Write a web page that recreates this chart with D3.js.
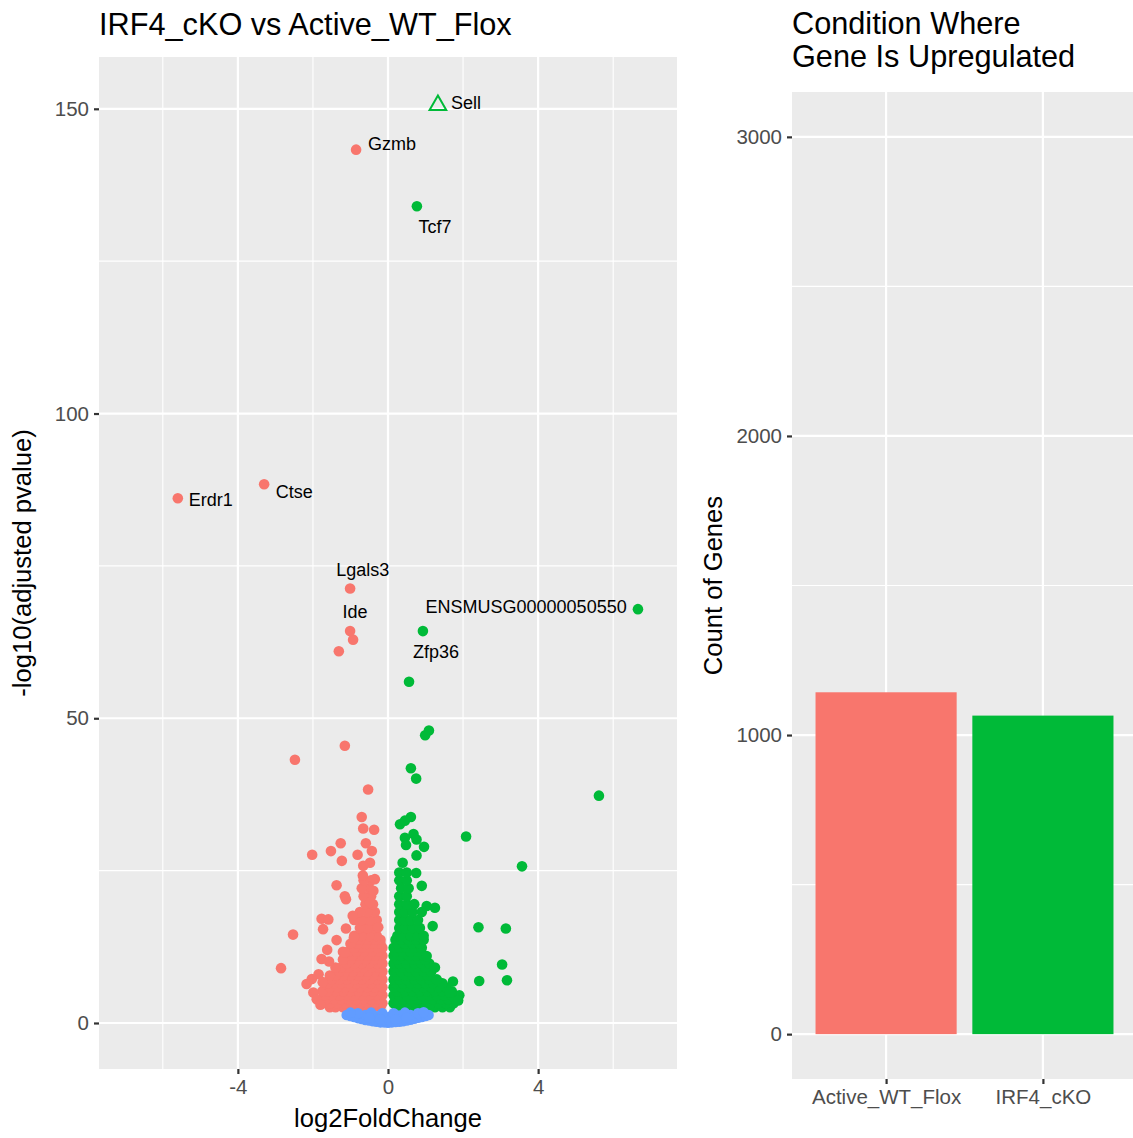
<!DOCTYPE html>
<html>
<head>
<meta charset="utf-8">
<script src="https://cdnjs.cloudflare.com/ajax/libs/d3/7.8.5/d3.min.js"></script>
<style>
  body { margin: 0; background: #fff; }
  svg text { font-family: "Liberation Sans", Arial, Helvetica, sans-serif; }
</style>
</head>
<body>
<div id="chart"></div>
<script>
width = 1133
height = 1138

// ---- volcano data: [log2FoldChange, -log10(padj)] ----
let downGenes = [
    // dense blob
    [-0.2,2.6],[-0.4,2.6],[-0.6,2.6],[-0.8,2.6],[-1.0,2.6],[-1.2,2.6],[-1.4,2.6],[-1.55,2.6],
    [-0.15,3.25],[-0.35,3.25],[-0.55,3.25],[-0.75,3.25],[-0.95,3.25],[-1.15,3.25],[-1.35,3.25],[-1.55,3.25],[-1.75,3.25],
    [-0.25,3.9],[-0.45,3.9],[-0.65,3.9],[-0.85,3.9],[-1.05,3.9],[-1.25,3.9],[-1.45,3.9],[-1.65,3.9],
    [-0.15,4.55],[-0.3,4.55],[-0.5,4.55],[-0.7,4.55],[-0.9,4.55],[-1.1,4.55],[-1.3,4.55],[-1.5,4.55],[-1.7,4.55],
    [-0.2,5.2],[-0.4,5.2],[-0.6,5.2],[-0.8,5.2],[-1.0,5.2],[-1.2,5.2],[-1.4,5.2],[-1.6,5.2],[-1.75,5.2],
    [-0.15,5.85],[-0.35,5.85],[-0.55,5.85],[-0.75,5.85],[-0.95,5.85],[-1.15,5.85],[-1.35,5.85],[-1.55,5.85],
    [-0.25,6.5],[-0.45,6.5],[-0.65,6.5],[-0.85,6.5],[-1.05,6.5],[-1.25,6.5],[-1.45,6.5],[-1.6,6.5],
    [-0.15,7.15],[-0.3,7.15],[-0.5,7.15],[-0.7,7.15],[-0.9,7.15],[-1.1,7.15],[-1.3,7.15],[-1.5,7.15],
    [-0.2,7.8],[-0.4,7.8],[-0.6,7.8],[-0.8,7.8],[-1.0,7.8],[-1.2,7.8],[-1.4,7.8],[-1.55,7.8],
    [-0.15,8.45],[-0.35,8.45],[-0.55,8.45],[-0.75,8.45],[-0.95,8.45],[-1.15,8.45],[-1.3,8.45],
    [-0.25,9.1],[-0.45,9.1],[-0.65,9.1],[-0.85,9.1],[-1.05,9.1],[-1.25,9.1],[-1.4,9.1],
    [-0.15,9.75],[-0.3,9.75],[-0.5,9.75],[-0.7,9.75],[-0.9,9.75],[-1.1,9.75],
    [-0.2,10.4],[-0.4,10.4],[-0.6,10.4],[-0.8,10.4],[-1.0,10.4],[-1.2,10.4],
    [-0.15,11.05],[-0.35,11.05],[-0.55,11.05],[-0.75,11.05],[-0.95,11.05],
    [-0.25,11.7],[-0.45,11.7],[-0.65,11.7],[-0.85,11.7],[-1.05,11.7],[-1.2,11.7],
    [-0.15,12.35],[-0.3,12.35],[-0.5,12.35],[-0.7,12.35],[-0.9,12.35],
    [-0.2,13.0],[-0.4,13.0],[-0.6,13.0],[-0.8,13.0],[-1.0,13.0],
    [-0.2,13.65],[-0.35,13.65],[-0.55,13.65],[-0.75,13.65],
    [-0.3,14.3],[-0.5,14.3],[-0.7,14.3],[-0.9,14.3],
    [-0.35,15.6],[-0.55,15.6],[-0.75,15.6],
    [-0.3,16.9],[-0.5,16.9],[-0.7,16.9],[-0.9,16.9],
    [-0.35,18.2],[-0.55,18.2],[-0.75,18.2],
    [-0.4,19.5],[-0.6,19.5],
    [-0.45,20.8],[-0.65,20.8],
    [-0.5,22.1],[-0.7,22.1],
    [-0.45,23.4],[-0.65,23.4],
    // scattered
    [-0.70,33.8],[-0.66,31.9],[-0.37,31.7],[-1.26,29.5],[-1.52,28.2],[-2.02,27.6],
    [-1.23,26.6],[-0.81,27.6],[-0.59,29.5],[-0.43,28.2],[-0.48,26.3],[-0.66,25.8],
    [-0.67,24.2],[-0.35,23.6],[-1.37,22.6],[-1.15,20.8],[-1.12,20.3],[-0.39,21.7],
    [-0.48,19.8],[-0.94,17.6],[-1.77,17.1],[-1.59,17.0],[-1.73,15.4],[-1.12,15.5],
    [-0.26,15.7],[-2.53,14.5],[-1.37,13.6],[-0.91,14.0],[-1.62,12.0],[-1.15,11.6],
    [-1.77,10.5],[-1.57,10.1],[-2.85,9.0],[-2.03,7.2],[-2.17,6.4],[-1.74,6.7],
    [-1.99,5.0],[-1.90,3.9],[-1.85,8.0],[-1.8,3.0],
    [-1.15,45.5],[-2.48,43.2],[-0.53,38.3],
    [-0.93,62.9],[-1.31,61.0]
]

let upGenes = [
    // dense blob
    [0.25,2.6],[0.45,2.6],[0.65,2.6],[0.85,2.6],[1.05,2.6],[1.25,2.6],[1.45,2.6],[1.65,2.6],
    [0.15,3.25],[0.35,3.25],[0.55,3.25],[0.75,3.25],[0.95,3.25],[1.15,3.25],[1.35,3.25],[1.55,3.25],[1.75,3.25],
    [0.2,3.9],[0.4,3.9],[0.6,3.9],[0.8,3.9],[1.0,3.9],[1.2,3.9],[1.4,3.9],[1.6,3.9],[1.8,3.9],
    [0.15,4.55],[0.3,4.55],[0.5,4.55],[0.7,4.55],[0.9,4.55],[1.1,4.55],[1.3,4.55],[1.5,4.55],[1.7,4.55],[1.9,4.55],
    [0.25,5.2],[0.45,5.2],[0.65,5.2],[0.85,5.2],[1.05,5.2],[1.25,5.2],[1.45,5.2],[1.7,5.2],
    [0.15,5.85],[0.35,5.85],[0.55,5.85],[0.75,5.85],[0.95,5.85],[1.15,5.85],[1.35,5.85],[1.55,5.85],
    [0.2,6.5],[0.4,6.5],[0.6,6.5],[0.8,6.5],[1.0,6.5],[1.2,6.5],[1.45,6.5],
    [0.15,7.15],[0.3,7.15],[0.5,7.15],[0.7,7.15],[0.9,7.15],[1.1,7.15],[1.3,7.15],
    [0.25,7.8],[0.45,7.8],[0.65,7.8],[0.85,7.8],[1.05,7.8],
    [0.15,8.45],[0.35,8.45],[0.55,8.45],[0.75,8.45],[0.95,8.45],[1.15,8.45],
    [0.2,9.1],[0.4,9.1],[0.6,9.1],[0.8,9.1],[1.0,9.1],
    [0.15,9.75],[0.3,9.75],[0.5,9.75],[0.7,9.75],[0.9,9.75],[1.1,9.75],
    [0.25,10.4],[0.45,10.4],[0.65,10.4],[0.85,10.4],[1.0,10.4],
    [0.15,11.05],[0.35,11.05],[0.55,11.05],[0.75,11.05],[0.95,11.05],
    [0.2,11.7],[0.4,11.7],[0.6,11.7],[0.8,11.7],
    [0.15,12.35],[0.3,12.35],[0.5,12.35],[0.7,12.35],[0.9,12.35],
    [0.25,13.0],[0.45,13.0],[0.65,13.0],[0.85,13.0],
    [0.2,13.65],[0.35,13.65],[0.55,13.65],[0.75,13.65],[0.95,13.65],
    [0.25,14.3],[0.4,14.3],[0.6,14.3],[0.8,14.3],[0.95,14.3],
    [0.3,15.6],[0.45,15.6],[0.65,15.6],[0.85,15.6],
    [0.3,16.9],[0.45,16.9],[0.6,16.9],[0.8,16.9],
    [0.3,18.2],[0.45,18.2],[0.65,18.2],[0.9,18.2],
    [0.3,19.5],[0.5,19.5],[0.7,19.5],
    [0.3,20.8],[0.5,20.8],
    [0.35,22.1],[0.55,22.1],[0.9,22.5],
    [0.3,23.4],[0.5,23.4],
    // scattered
    [0.61,33.8],[0.45,33.2],[0.32,32.6],[0.68,31.0],[0.45,30.4],[0.76,30.1],
    [0.48,29.2],[0.96,28.9],[0.76,27.5],[0.39,26.3],[0.30,24.7],[0.50,24.7],
    [0.75,24.6],[1.03,19.2],[1.25,18.9],[1.19,15.9],[1.03,11.0],[1.25,9.1],
    [1.73,6.8],[1.65,5.0],[1.87,3.7],[2.43,6.9],[2.41,15.7],
    [1.09,48.0],[0.99,47.2],[0.61,41.8],[0.75,40.1],[5.62,37.3],[2.08,30.6],
    [3.57,25.7],[3.14,15.5],[3.04,9.6],[3.17,7.0],
    [0.56,56.0]
]

let nsGenes = [
    [0,0.05],[-0.1,0.1],[0.1,0.1],[-0.2,0.1],[0.2,0.15],[-0.3,0.2],[0.3,0.2],
    [-0.4,0.3],[0.4,0.3],[-0.5,0.4],[0.5,0.4],[-0.6,0.5],[0.6,0.55],[-0.7,0.65],
    [0.7,0.7],[-0.8,0.8],[0.8,0.85],[-0.9,1.0],[0.9,1.0],[-1.0,1.15],[1.0,1.15],
    [-1.1,1.3],[1.08,1.3],[-0.05,0.9],[0.05,1.0],[-0.3,1.1],[0.3,1.2],[-0.6,1.3],
    [0.6,1.3],[-0.15,1.6],[0.15,1.6],[-0.45,1.7],[0.45,1.7],[-0.8,1.6],[0.8,1.6],
    [-1.0,1.7],[0.95,1.75],[-0.2,0.6],[0.2,0.6],[-0.5,0.9],[0.5,0.9]
]

// labelled genes
let labelGenes = ["Sell", "Gzmb", "Tcf7", "Erdr1", "Ctse", "Lgals3", "Ide", "ENSMUSG00000050550", "Zfp36"]
let labelFC = [1.33, -0.85, 0.77, -5.60, -3.30, -1.01, -1.01, 6.66, 0.93]
let labelP = [150.6, 143.3, 134.0, 86.1, 88.4, 71.3, 64.3, 67.9, 64.3]
let labelGroup = ["up", "down", "up", "down", "down", "down", "down", "up", "up"]
// where the repelled text landed, in data units
let labelTextFC = [2.08, 0.11, 1.25, -4.72, -2.50, -0.67, -0.88, 3.68, 1.28]
let labelTextP = [151.0, 144.2, 130.7, 85.9, 87.2, 74.3, 67.5, 68.3, 61.0]

let xTicks = [-4, 0, 4]
let xMinor = [-6, -2, 2, 6]
let yTicks = [0, 50, 100, 150]
let yMinor = [25, 75, 125]

// ---- bar data ----
let conditions = ["Active_WT_Flox", "IRF4_cKO"]
let geneCounts = [1143, 1065]
let countTicks = [0, 1000, 2000, 3000]
let countMinor = [500, 1500, 2500]

let colors = { down: "#F8766D", up: "#00BA38", ns: "#619CFF" }
let dotR = 5.3

let svg = d3.select("#chart")
    .append("svg")
    .attr("width", width)
    .attr("height", height)

// ================= volcano =================
let vp = { left: 99, right: 677, top: 57, bottom: 1069 }

let x = d3.scaleLinear().domain([-7.7, 7.7]).range([vp.left, vp.right])
let y = d3.scaleLinear().domain([-7.55, 158.5]).range([vp.bottom, vp.top])

let volcano = svg.append("g")

volcano.append("rect")
    .attr("x", vp.left).attr("y", vp.top)
    .attr("width", vp.right - vp.left).attr("height", vp.bottom - vp.top)
    .attr("fill", "#EBEBEB")

volcano.selectAll(".vminor").data(xMinor).join("line")
    .attr("x1", d => x(d)).attr("x2", d => x(d))
    .attr("y1", vp.top).attr("y2", vp.bottom)
    .attr("stroke", "#fff").attr("stroke-width", 1.1)
volcano.selectAll(".hminor").data(yMinor).join("line")
    .attr("y1", d => y(d)).attr("y2", d => y(d))
    .attr("x1", vp.left).attr("x2", vp.right)
    .attr("stroke", "#fff").attr("stroke-width", 1.1)
volcano.selectAll(".vmajor").data(xTicks).join("line")
    .attr("x1", d => x(d)).attr("x2", d => x(d))
    .attr("y1", vp.top).attr("y2", vp.bottom)
    .attr("stroke", "#fff").attr("stroke-width", 2.2)
volcano.selectAll(".hmajor").data(yTicks).join("line")
    .attr("y1", d => y(d)).attr("y2", d => y(d))
    .attr("x1", vp.left).attr("x2", vp.right)
    .attr("stroke", "#fff").attr("stroke-width", 2.2)

let pts = volcano.append("g")
function drawPoints(list, color) {
    pts.append("g").selectAll("circle").data(list).join("circle")
        .attr("cx", d => x(d[0]))
        .attr("cy", d => y(d[1]))
        .attr("r", dotR)
        .attr("fill", color)
}
drawPoints(downGenes, colors.down)
drawPoints(upGenes, colors.up)
drawPoints(nsGenes, colors.ns)

let labelled = labelGenes.map((g, i) => ({
    gene: g, fc: labelFC[i], p: labelP[i], group: labelGroup[i],
    tfc: labelTextFC[i], tp: labelTextP[i]
}))

// Sell is drawn as an open triangle, the rest as dots
pts.selectAll(".lab").data(labelled).join("path")
    .attr("transform", d => "translate(" + x(d.fc) + "," + y(d.p) + ")")
    .attr("d", d => d.gene == "Sell"
        ? d3.symbol(d3.symbolTriangle).size(120)()
        : d3.symbol(d3.symbolCircle).size(Math.PI * dotR * dotR)())
    .attr("fill", d => d.gene == "Sell" ? "none" : colors[d.group])
    .attr("stroke", d => d.gene == "Sell" ? colors[d.group] : "none")
    .attr("stroke-width", 2)

volcano.selectAll(".gene-label").data(labelled).join("text")
    .attr("x", d => x(d.tfc))
    .attr("y", d => y(d.tp))
    .attr("dy", "0.35em")
    .attr("text-anchor", "middle")
    .style("font-size", "18px")
    .attr("fill", "#000")
    .text(d => d.gene)

// axes
let xAxis = volcano.append("g")
    .attr("transform", "translate(0," + vp.bottom + ")")
    .call(d3.axisBottom(x).tickValues(xTicks).tickSize(5).tickPadding(5).tickFormat(d3.format("d")))
let yAxis = volcano.append("g")
    .attr("transform", "translate(" + vp.left + ",0)")
    .call(d3.axisLeft(y).tickValues(yTicks).tickSize(5).tickPadding(5))

function styleAxis(g) {
    g.select(".domain").remove()
    g.selectAll(".tick line").attr("stroke", "#333333").attr("stroke-width", 2.2)
    g.selectAll(".tick text")
        .attr("fill", "#4D4D4D")
        .style("font-size", "20.5px")
        .style("font-family", '"Liberation Sans", Arial, sans-serif')
}
styleAxis(xAxis)
styleAxis(yAxis)
xAxis.selectAll(".tick text").text(d => d < 0 ? "-" + Math.abs(d) : d)

volcano.append("text")
    .attr("x", (vp.left + vp.right) / 2)
    .attr("y", 1127)
    .attr("text-anchor", "middle")
    .style("font-size", "25.6px")
    .text("log2FoldChange")

volcano.append("text")
    .attr("transform", "translate(31," + ((vp.top + vp.bottom) / 2) + ") rotate(-90)")
    .attr("text-anchor", "middle")
    .style("font-size", "25.6px")
    .text("-log10(adjusted pvalue)")

volcano.append("text")
    .attr("x", 99)
    .attr("y", 35)
    .style("font-size", "30.7px")
    .text("IRF4_cKO vs Active_WT_Flox")

// ================= bar chart =================
let bp = { left: 792, right: 1137, top: 92, bottom: 1079 }

let bx = d3.scalePoint().domain(conditions).range([bp.left, bp.right]).padding(0.6)
let by = d3.scaleLinear().domain([-150, 3150]).range([bp.bottom, bp.top])
let barWidth = bx.step() * 0.9

let bars = svg.append("g")

bars.append("rect")
    .attr("x", bp.left).attr("y", bp.top)
    .attr("width", bp.right - bp.left).attr("height", bp.bottom - bp.top)
    .attr("fill", "#EBEBEB")

bars.selectAll(".hminor").data(countMinor).join("line")
    .attr("y1", d => by(d)).attr("y2", d => by(d))
    .attr("x1", bp.left).attr("x2", bp.right)
    .attr("stroke", "#fff").attr("stroke-width", 1.1)
bars.selectAll(".hmajor").data(countTicks).join("line")
    .attr("y1", d => by(d)).attr("y2", d => by(d))
    .attr("x1", bp.left).attr("x2", bp.right)
    .attr("stroke", "#fff").attr("stroke-width", 2.2)
bars.selectAll(".vmajor").data(conditions).join("line")
    .attr("x1", d => bx(d)).attr("x2", d => bx(d))
    .attr("y1", bp.top).attr("y2", bp.bottom)
    .attr("stroke", "#fff").attr("stroke-width", 2.2)

bars.selectAll(".bar").data(conditions).join("rect")
    .attr("x", d => bx(d) - barWidth / 2)
    .attr("width", barWidth)
    .attr("y", (d, i) => by(geneCounts[i]))
    .attr("height", (d, i) => by(0) - by(geneCounts[i]))
    .attr("fill", (d, i) => i == 0 ? colors.down : colors.up)

let bxAxis = bars.append("g")
    .attr("transform", "translate(0," + bp.bottom + ")")
    .call(d3.axisBottom(bx).tickSize(5).tickPadding(5))
let byAxis = bars.append("g")
    .attr("transform", "translate(" + bp.left + ",0)")
    .call(d3.axisLeft(by).tickValues(countTicks).tickSize(5).tickPadding(5).tickFormat(d3.format("d")))
styleAxis(bxAxis)
styleAxis(byAxis)

bars.append("text")
    .attr("transform", "translate(722," + ((bp.top + bp.bottom) / 2) + ") rotate(-90)")
    .attr("text-anchor", "middle")
    .style("font-size", "25.6px")
    .text("Count of Genes")

let barTitle = bars.append("text")
    .attr("x", 792)
    .attr("y", 34)
    .style("font-size", "30.7px")
barTitle.append("tspan").attr("x", 792).text("Condition Where")
barTitle.append("tspan").attr("x", 792).attr("dy", 33).text("Gene Is Upregulated")
</script>
</body>
</html>
